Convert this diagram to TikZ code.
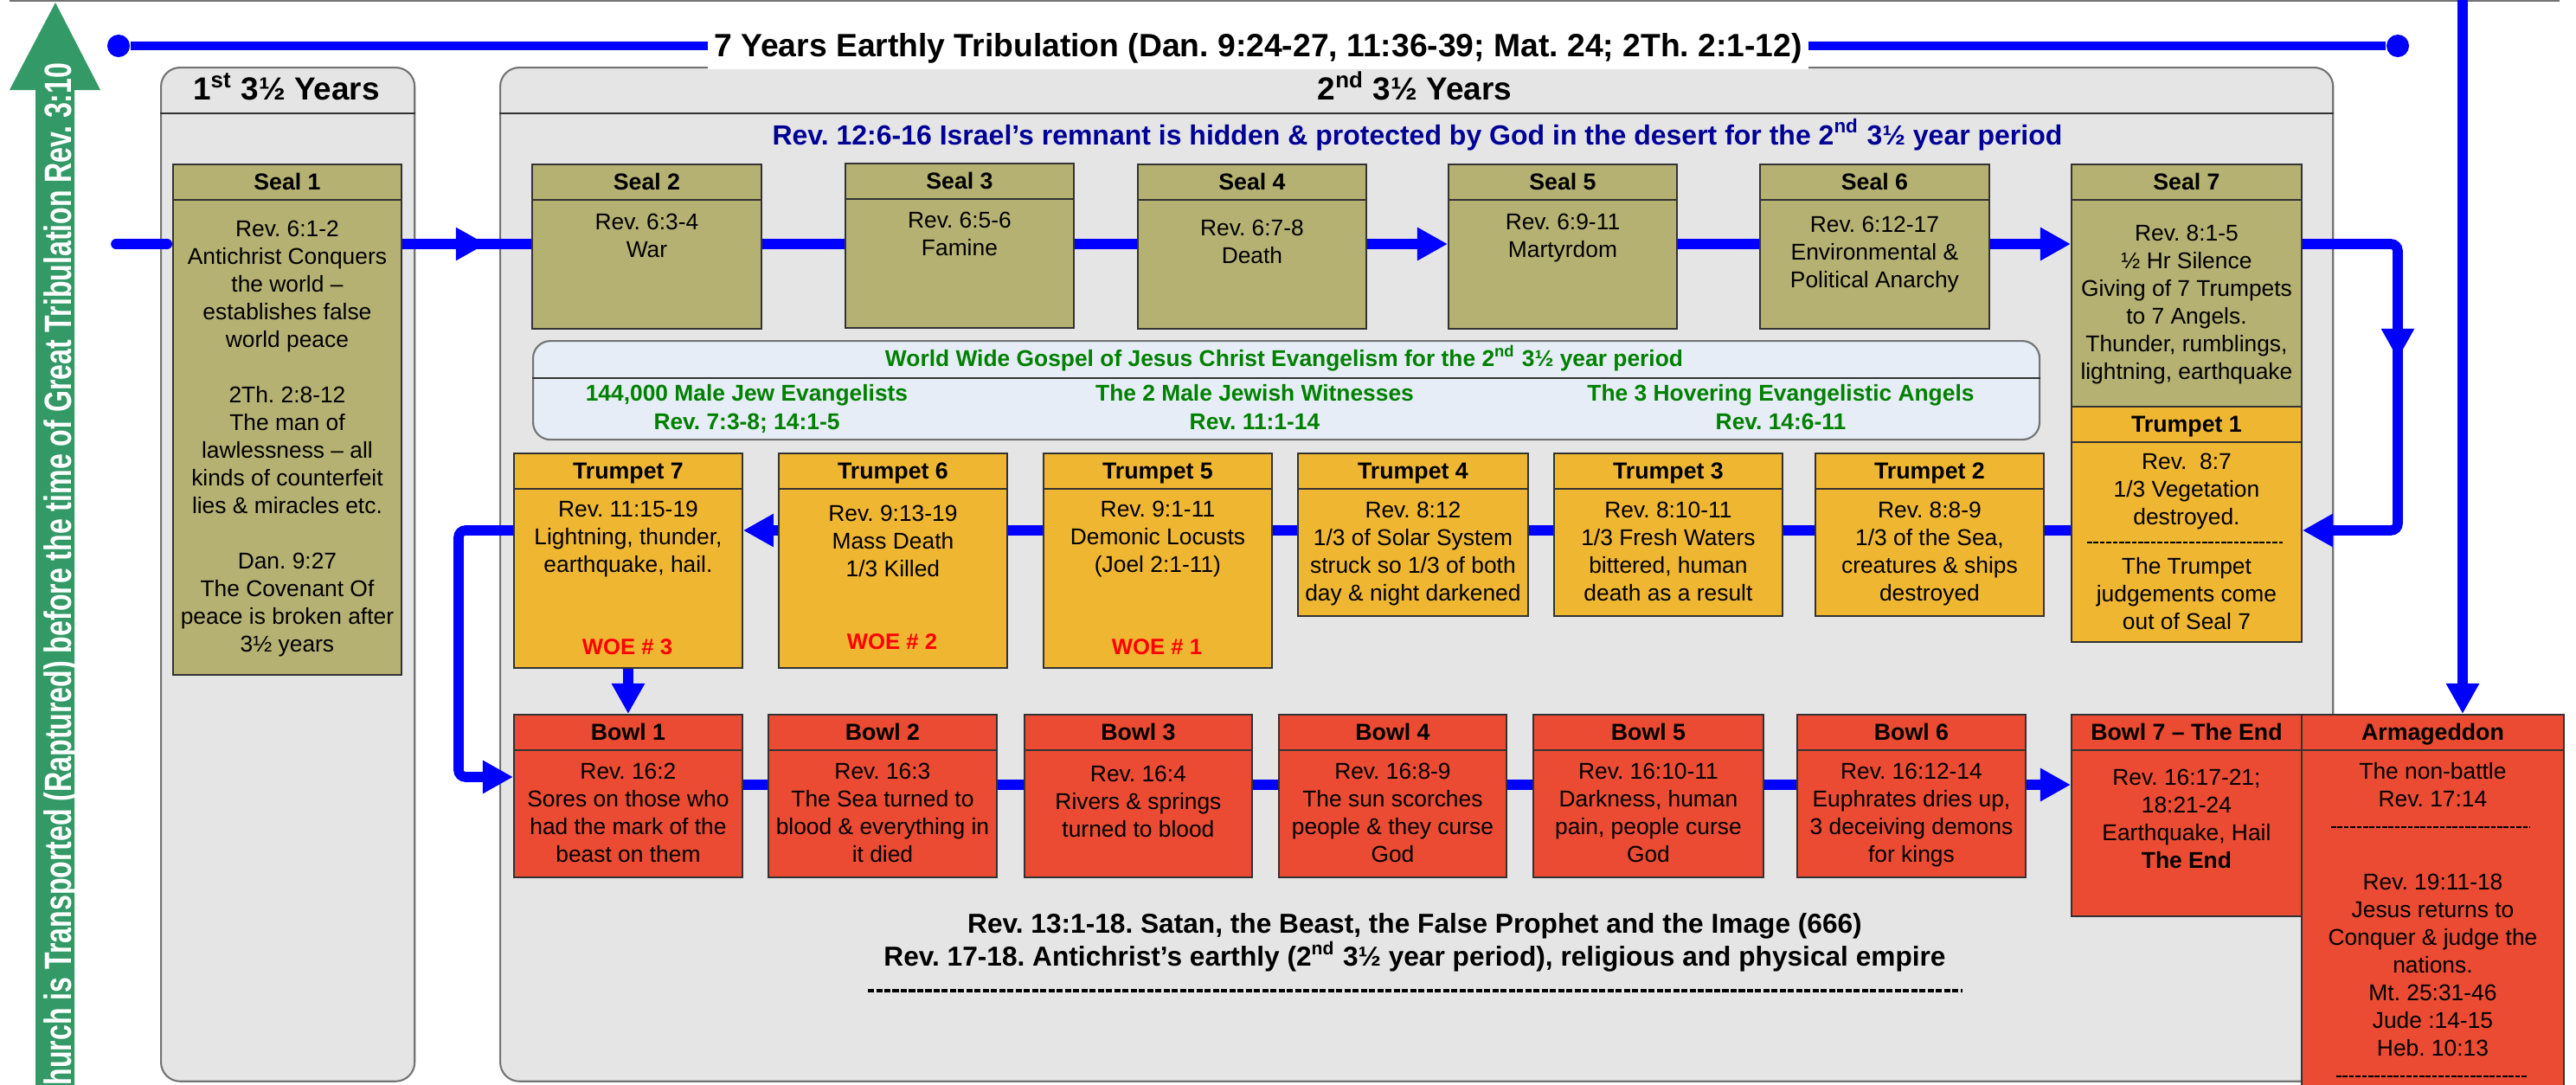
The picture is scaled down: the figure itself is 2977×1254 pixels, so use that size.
\documentclass[tikz,border=0pt]{standalone}
\usepackage{fontspec}
\setmainfont{Liberation Sans}
\usetikzlibrary{arrows.meta}
\usetikzlibrary{decorations.markings}
\frenchspacing

\definecolor{panelgray}{RGB}{229,229,229}
\definecolor{sealolive}{RGB}{181,177,114}
\definecolor{trumpgold}{RGB}{239,182,50}
\definecolor{bowlred}{RGB}{234,75,50}
\definecolor{gospelblue}{RGB}{230,237,247}
\definecolor{flowblue}{RGB}{0,0,255}
\definecolor{raptgreen}{RGB}{51,153,102}
\definecolor{navytext}{RGB}{0,0,150}
\definecolor{gospelgreen}{RGB}{0,128,0}

\tikzset{
    panel/.style={draw=black!55, fill=panelgray, line width=0.6pt, rounded corners=0.22cm, inner sep=0pt, anchor=north west},
    evbox/.style={draw=black!80, line width=0.5pt, inner sep=0pt, anchor=north west},
    sep/.style={draw=black!80, line width=0.6pt},
    hdr/.style={anchor=base, inner sep=0pt, font=\bfseries\fontsize{7.6}{9.1}\selectfont},
    body/.style={anchor=north, align=center, inner sep=0pt, font=\fontsize{7.5}{9.1}\selectfont},
    flow/.style={draw=flowblue, line width=3.3pt},
    midarrow/.style={postaction={decorate, decoration={markings, mark=at position #1 with {\arrow{>}}}}},
    dot/.style={circle, fill=flowblue, minimum size=0.26cm, inner sep=0pt},
    gtxt/.style={text=gospelgreen, inner sep=0pt, font=\bfseries\fontsize{7.5}{9.4}\selectfont},
    woe/.style={anchor=base, text=red, inner sep=0pt, font=\bfseries\fontsize{7.3}{9}\selectfont},
    dashsep/.style={draw=black, line width=0.7pt, dash pattern=on 1.6pt off 0.5pt},
    dashbold/.style={draw=black, line width=1.1pt, dash pattern=on 2pt off 0.7pt}
}

% box with a header bar: name, fill, x, y, width, height, title, text offset, text
\newcommand{\evbox}[9]{%
    \node[evbox, fill=#2, minimum width=#5, minimum height=#6] (#1) at (#3,#4) {};
    \draw[sep] ([yshift=-0.42cm]#1.north west) -- ([yshift=-0.42cm]#1.north east);
    \node[hdr] (#1hd) at ([yshift=-0.30cm]#1.north) {#7};
    \node[body] (#1txt) at ([yshift=-#8]#1.north) {#9};
}

\begin{document}
\begin{tikzpicture}[x=0.01cm, y=-0.01cm, >={Triangle[length=0.35cm,width=0.36cm]}]
\useasboundingbox (0,0) rectangle (2977,1254);
\clip (0,0) rectangle (2977,1254);

\draw[black!55, line width=0.8pt] (11,1) -- (2958,1);

% rapture arrow
\fill[raptgreen] (41,1300) -- (41,104) -- (11,104) -- (64,3) -- (116,104) -- (86,104) -- (86,1300) -- cycle;
\node[rotate=90, anchor=base east, text=white, inner sep=0pt, font=\bfseries\fontsize{12.5}{14}\selectfont] (rapture) at (82,72)
    {\scalebox{0.73}[1]{Church is Transported (Raptured) before the time of Great Tribulation Rev. 3:10}};

% the two halves
\node[panel, minimum width=2.93cm, minimum height=11.71cm] (first) at (185,77) {};
\node[panel, minimum width=21.17cm, minimum height=11.71cm] (second) at (577,77) {};
\draw[sep] ([yshift=-0.54cm]first.north west) -- ([yshift=-0.54cm]first.north east);
\draw[sep] ([yshift=-0.54cm]second.north west) -- ([yshift=-0.54cm]second.north east);
\node[anchor=base, font=\bfseries\fontsize{10.5}{12}\selectfont] (firsthd) at (331,115) {1\textsuperscript{st} 3½ Years};
\node[anchor=base, font=\bfseries\fontsize{10.5}{12}\selectfont] (secondhd) at (1635,115) {2\textsuperscript{nd} 3½ Years};

% title bar
\node[dot] (tl) at (137,53) {};
\node[dot] (tr) at (2771,53) {};
\draw[flow, line width=2.9pt] (tl) -- (tr);
\node[fill=white, inner sep=2pt, anchor=base, font=\bfseries\fontsize{10.6}{12}\selectfont] (title) at (1454,65)
    {7 Years Earthly Tribulation (Dan. 9:24-27, 11:36-39; Mat. 24; 2Th. 2:1-12)};

\node[anchor=base, text=navytext, inner sep=0pt, font=\bfseries\fontsize{9.1}{11}\selectfont] (israel) at (1638,167)
    {Rev. 12:6-16 Israel’s remnant is hidden \& protected by God in the desert for the 2\textsuperscript{nd} 3½ year period};

% gospel box
\node[panel, fill=gospelblue, rounded corners=0.2cm, minimum width=17.40cm, minimum height=1.14cm] (gospel) at (615,393) {};
\draw[sep] ([yshift=-0.44cm]gospel.north west) -- ([yshift=-0.44cm]gospel.north east);
\node[gtxt, anchor=base] (gospelhd) at (1484,423) {World Wide Gospel of Jesus Christ Evangelism for the 2\textsuperscript{nd} 3½ year period};
\node[gtxt, anchor=north, align=center] (jews) at (863,444) {144,000 Male Jew Evangelists\\Rev. 7:3-8; 14:1-5};
\node[gtxt, anchor=north, align=center] (witness) at (1450,444) {The 2 Male Jewish Witnesses\\Rev. 11:1-14};
\node[gtxt, anchor=north, align=center] (angels) at (2058,444) {The 3 Hovering Evangelistic Angels\\Rev. 14:6-11};

% seals
\evbox{seal1}{sealolive}{199}{189}{2.64cm}{5.90cm}{Seal 1}{0.65cm}{Rev. 6:1-2\\Antichrist Conquers\\the world –\\establishes false\\world peace\\[9.1pt]2Th. 2:8-12\\The man of\\lawlessness – all\\kinds of counterfeit\\lies \& miracles etc.\\[9.1pt]Dan. 9:27\\The Covenant Of\\peace is broken after\\3½ years}
\evbox{seal2}{sealolive}{614}{189}{2.65cm}{1.90cm}{Seal 2}{0.57cm}{Rev. 6:3-4\\War}
\evbox{seal3}{sealolive}{976}{188}{2.64cm}{1.90cm}{Seal 3}{0.56cm}{Rev. 6:5-6\\Famine}
\evbox{seal4}{sealolive}{1314}{189}{2.64cm}{1.90cm}{Seal 4}{0.64cm}{Rev. 6:7-8\\Death}
\evbox{seal5}{sealolive}{1673}{189}{2.64cm}{1.90cm}{Seal 5}{0.57cm}{Rev. 6:9-11\\Martyrdom}
\evbox{seal6}{sealolive}{2033}{189}{2.65cm}{1.90cm}{Seal 6}{0.60cm}{Rev. 6:12-17\\Environmental \&\\Political Anarchy}
\evbox{seal7}{sealolive}{2393}{189}{2.66cm}{2.80cm}{Seal 7}{0.70cm}{Rev. 8:1-5\\½ Hr Silence\\Giving of 7 Trumpets\\to 7 Angels.\\Thunder, rumblings,\\lightning, earthquake}

% trumpets
\evbox{trump1}{trumpgold}{2393}{469}{2.66cm}{2.72cm}{Trumpet 1}{0.54cm}{Rev.\ \ 8:7\\1/3 Vegetation\\destroyed.\\[0.25cm]The Trumpet\\judgements come\\out of Seal 7}
\draw[dashsep] (2412,627) -- (2638,627);
\evbox{trump2}{trumpgold}{2097}{523}{2.64cm}{1.88cm}{Trumpet 2}{0.56cm}{Rev. 8:8-9\\1/3 of the Sea,\\creatures \& ships\\destroyed}
\evbox{trump3}{trumpgold}{1795}{523}{2.64cm}{1.88cm}{Trumpet 3}{0.56cm}{Rev. 8:10-11\\1/3 Fresh Waters\\bittered, human\\death as a result}
\evbox{trump4}{trumpgold}{1499}{523}{2.66cm}{1.88cm}{Trumpet 4}{0.56cm}{Rev. 8:12\\1/3 of Solar System\\struck so 1/3 of both\\day \& night darkened}
\evbox{trump5}{trumpgold}{1205}{523}{2.64cm}{2.48cm}{Trumpet 5}{0.55cm}{Rev. 9:1-11\\Demonic Locusts\\(Joel 2:1-11)}
\evbox{trump6}{trumpgold}{899}{523}{2.64cm}{2.48cm}{Trumpet 6}{0.60cm}{Rev. 9:13-19\\Mass Death\\1/3 Killed}
\evbox{trump7}{trumpgold}{593}{523}{2.64cm}{2.48cm}{Trumpet 7}{0.55cm}{Rev. 11:15-19\\Lightning, thunder,\\earthquake, hail.}
\node[woe] (woe1) at (1337,756) {WOE \# 1};
\node[woe] (woe2) at (1031,750) {WOE \# 2};
\node[woe] (woe3) at (725,756) {WOE \# 3};

% bowls
\evbox{bowl1}{bowlred}{593}{825}{2.64cm}{1.88cm}{Bowl 1}{0.56cm}{Rev. 16:2\\Sores on those who\\had the mark of the\\beast on them}
\evbox{bowl2}{bowlred}{887}{825}{2.64cm}{1.88cm}{Bowl 2}{0.56cm}{Rev. 16:3\\The Sea turned to\\blood \& everything in\\it died}
\evbox{bowl3}{bowlred}{1183}{825}{2.63cm}{1.88cm}{Bowl 3}{0.59cm}{Rev. 16:4\\Rivers \& springs\\turned to blood}
\evbox{bowl4}{bowlred}{1477}{825}{2.63cm}{1.88cm}{Bowl 4}{0.56cm}{Rev. 16:8-9\\The sun scorches\\people \& they curse\\God}
\evbox{bowl5}{bowlred}{1771}{825}{2.66cm}{1.88cm}{Bowl 5}{0.56cm}{Rev. 16:10-11\\Darkness, human\\pain, people curse\\God}
\evbox{bowl6}{bowlred}{2076}{825}{2.64cm}{1.88cm}{Bowl 6}{0.56cm}{Rev. 16:12-14\\Euphrates dries up,\\3 deceiving demons\\for kings}
\evbox{bowl7}{bowlred}{2393}{825}{2.66cm}{2.33cm}{Bowl 7 – The End}{0.63cm}{Rev. 16:17-21;\\18:21-24\\Earthquake, Hail\\\textbf{The End}}
\evbox{armag}{bowlred}{2659}{825}{3.03cm}{5.00cm}{Armageddon}{0.56cm}{The non-battle\\Rev. 17:14\\[18.2pt]Rev. 19:11-18\\Jesus returns to\\Conquer \& judge the\\nations.\\Mt. 25:31-46\\Jude :14-15\\Heb. 10:13}
\draw[dashsep] (2694,956) -- (2924,956);
\draw[dashsep] (2700,1244) -- (2920,1244);

\node[anchor=north, align=center, inner sep=0pt, font=\bfseries\fontsize{9.0}{10.8}\selectfont] (beast) at (1635,1055)
    {Rev. 13:1-18. Satan, the Beast, the False Prophet and the Image (666)\\Rev. 17-18. Antichrist’s earthly (2\textsuperscript{nd} 3½ year period), religious and physical empire};
\draw[dashbold] (1003,1145) -- (2268,1145);

% flow of the judgements
\coordinate (r1) at (134,282);
\coordinate (r2) at (2771,613);
\coordinate (r3a) at (530,898);
\coordinate (r3) at (0,907);
\coordinate (rtop) at (2846,-10);

\draw[flow, line cap=round, shorten >=1.65pt] (r1) -- (r1 -| seal1.west);
\draw[flow, midarrow=0.65] (seal1.east |- r1) -- (seal2.west |- r1);
\draw[flow] (seal2.east |- r1) -- (seal3.west |- r1);
\draw[flow] (seal3.east |- r1) -- (seal4.west |- r1);
\draw[flow, ->] (seal4.east |- r1) -- (seal5.west |- r1);
\draw[flow] (seal5.east |- r1) -- (seal6.west |- r1);
\draw[flow, ->] (seal6.east |- r1) -- (seal7.west |- r1);
\draw[flow, ->, rounded corners=0.08cm, midarrow=0.44] (seal7.east |- r1) -| (r2) -- (r2 -| trump1.east);

\draw[flow] (trump1.west |- r2) -- (trump2.east |- r2);
\draw[flow] (trump2.west |- r2) -- (trump3.east |- r2);
\draw[flow] (trump3.west |- r2) -- (trump4.east |- r2);
\draw[flow] (trump4.west |- r2) -- (trump5.east |- r2);
\draw[flow] (trump5.west |- r2) -- (trump6.east |- r2);
\draw[flow, ->] (trump6.west |- r2) -- (trump7.east |- r2);
\draw[flow, ->, rounded corners=0.08cm] (trump7.west |- r2) -| (r3a) -- (r3a -| bowl1.west);
\draw[flow, ->] (trump7) -- (bowl1);

\draw[flow] (bowl1.east |- r3) -- (bowl2.west |- r3);
\draw[flow] (bowl2.east |- r3) -- (bowl3.west |- r3);
\draw[flow] (bowl3.east |- r3) -- (bowl4.west |- r3);
\draw[flow] (bowl4.east |- r3) -- (bowl5.west |- r3);
\draw[flow] (bowl5.east |- r3) -- (bowl6.west |- r3);
\draw[flow, ->] (bowl6.east |- r3) -- (bowl7.west |- r3);

\draw[flow, ->] (rtop) -- (rtop |- armag.north);

\end{tikzpicture}
\end{document}
